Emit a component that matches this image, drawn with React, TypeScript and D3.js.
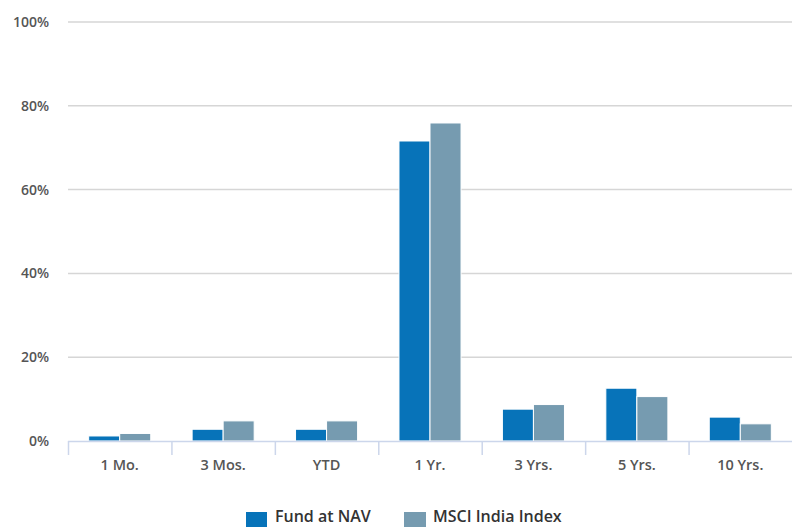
import React from "react";
import * as d3 from "d3";

const categories = ["1 Mo.", "3 Mos.", "YTD", "1 Yr.", "3 Yrs.", "5 Yrs.", "10 Yrs."];
const fundValues = [1.2, 2.8, 2.8, 71.6, 7.6, 12.6, 5.7];
const indexValues = [1.8, 4.8, 4.8, 75.9, 8.7, 10.6, 4.1];
const seriesNames = ["Fund at NAV", "MSCI India Index"];
const seriesColors = ["#0773b9", "#769bb0"];
const yTicks = [0, 20, 40, 60, 80, 100];

const W = 792;
const H = 527;
const left = 68;
const right = 792;
const top = 22;
const bottom = 441;
const FONT = "'Open Sans', 'DejaVu Sans', sans-serif";

export default function App() {
  const x = d3.scaleBand<string>().domain(categories).range([left, right]).paddingInner(0).paddingOuter(0);
  const y = d3.scaleLinear().domain([0, 100]).range([bottom, top]);
  const bw = x.bandwidth();
  const groupW = bw * 0.6;
  const inner = d3.scaleBand<number>().domain([0, 1]).range([0, groupW]).padding(0);
  const series = [fundValues, indexValues];

  return (
    <svg width={W} height={H} style={{ position: "absolute", left: 0, top: 0, background: "#fff" }} fontFamily={FONT}>
      {yTicks.map((t) => (
        <g key={t}>
          {t !== 0 && <line x1={left} x2={right} y1={y(t)} y2={y(t)} stroke="#d6d6d6" strokeWidth={1.5} />}
          <text x={49} y={y(t) + 5} textAnchor="end" fontSize={14} fontWeight={600} fill="#555">
            {t}%
          </text>
        </g>
      ))}
      {categories.map((c, i) =>
        series.map((vals, s) => {
          const bx = (x(c) as number) + (bw - groupW) / 2 + (inner(s) as number);
          return (
            <rect
              key={c + s}
              x={bx}
              y={y(vals[i])}
              width={inner.bandwidth()}
              height={bottom - y(vals[i])}
              fill={seriesColors[s]}
              stroke="#fff"
              strokeWidth={1}
            />
          );
        })
      )}
      <line x1={left} x2={right} y1={bottom + 0.5} y2={bottom + 0.5} stroke="#ccd6eb" strokeWidth={1.5} />
      {categories.map((c) => (
        <line key={"t" + c} x1={(x(c) as number) + 0.5} x2={(x(c) as number) + 0.5} y1={bottom} y2={bottom + 14} stroke="#ccd6eb" strokeWidth={1.5} />
      ))}
      {categories.map((c) => (
        <text key={"l" + c} x={(x(c) as number) + bw / 2} y={470} textAnchor="middle" fontSize={14.5} fontWeight={600} fill="#555">
          {c}
        </text>
      ))}
      <g>
        <rect x={246} y={512} width={21} height={15} fill={seriesColors[0]} />
        <text x={275} y={522} fontSize={16} fontWeight={600} fill="#333">{seriesNames[0]}</text>
        <rect x={404} y={512} width={22} height={15} fill={seriesColors[1]} />
        <text x={433} y={522} fontSize={16} fontWeight={600} fill="#333">{seriesNames[1]}</text>
      </g>
    </svg>
  );
}
